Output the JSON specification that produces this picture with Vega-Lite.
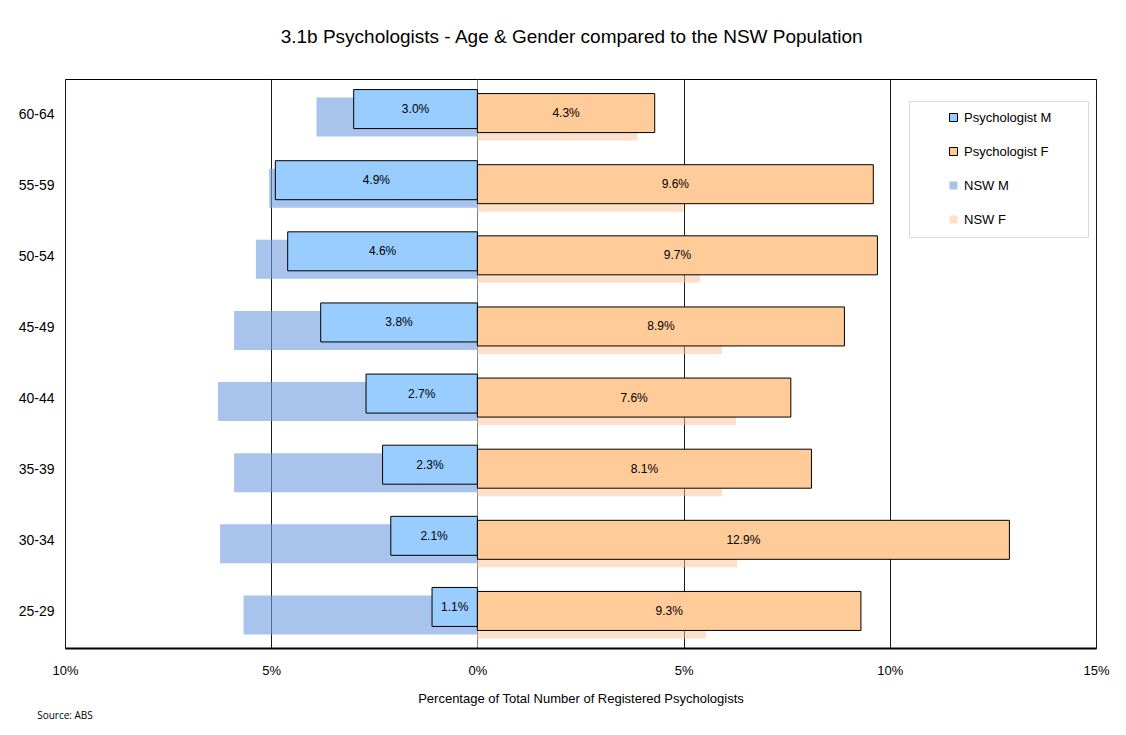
{
  "$schema": "https://vega.github.io/schema/vega-lite/v6.json",
  "background": "white",
  "padding": {"left": 17, "top": 27, "right": 28, "bottom": 12},
  "config": {"font": "Liberation Sans", "view": {"stroke": "#000000", "strokeWidth": 1}},
  "title": {"text": "3.1b Psychologists - Age & Gender compared to the NSW Population", "fontSize": 19, "font": "Liberation Sans", "fontWeight": "normal", "color": "#000000", "anchor": "middle", "offset": 32, "dx": 8},
  "vconcat": [
    {
      "width": 1031,
      "height": 569,
      "title": {"text": "Source: ABS", "orient": "bottom", "anchor": "start", "frame": "bounds", "fontSize": 10, "font": "Open Sans", "fontWeight": "normal", "color": "#000000", "dx": 19, "offset": 6},
      "data": {
        "values": [
          {"age": "60-64", "series": "NSW M", "value": -3.9},
          {"age": "55-59", "series": "NSW M", "value": -5.05},
          {"age": "50-54", "series": "NSW M", "value": -5.37},
          {"age": "45-49", "series": "NSW M", "value": -5.9},
          {"age": "40-44", "series": "NSW M", "value": -6.29},
          {"age": "35-39", "series": "NSW M", "value": -5.9},
          {"age": "30-34", "series": "NSW M", "value": -6.24},
          {"age": "25-29", "series": "NSW M", "value": -5.67},
          {"age": "60-64", "series": "NSW F", "value": 3.88},
          {"age": "55-59", "series": "NSW F", "value": 5.0},
          {"age": "50-54", "series": "NSW F", "value": 5.4},
          {"age": "45-49", "series": "NSW F", "value": 5.93},
          {"age": "40-44", "series": "NSW F", "value": 6.27},
          {"age": "35-39", "series": "NSW F", "value": 5.93},
          {"age": "30-34", "series": "NSW F", "value": 6.3},
          {"age": "25-29", "series": "NSW F", "value": 5.55},
          {"age": "60-64", "series": "Psychologist M", "value": -3.0},
          {"age": "55-59", "series": "Psychologist M", "value": -4.9},
          {"age": "50-54", "series": "Psychologist M", "value": -4.6},
          {"age": "45-49", "series": "Psychologist M", "value": -3.8},
          {"age": "40-44", "series": "Psychologist M", "value": -2.7},
          {"age": "35-39", "series": "Psychologist M", "value": -2.3},
          {"age": "30-34", "series": "Psychologist M", "value": -2.1},
          {"age": "25-29", "series": "Psychologist M", "value": -1.1},
          {"age": "60-64", "series": "Psychologist F", "value": 4.3},
          {"age": "55-59", "series": "Psychologist F", "value": 9.6},
          {"age": "50-54", "series": "Psychologist F", "value": 9.7},
          {"age": "45-49", "series": "Psychologist F", "value": 8.9},
          {"age": "40-44", "series": "Psychologist F", "value": 7.6},
          {"age": "35-39", "series": "Psychologist F", "value": 8.1},
          {"age": "30-34", "series": "Psychologist F", "value": 12.9},
          {"age": "25-29", "series": "Psychologist F", "value": 9.3}
        ]
      },
      "encoding": {
        "y": {
          "field": "age", "type": "nominal",
          "sort": ["60-64", "55-59", "50-54", "45-49", "40-44", "35-39", "30-34", "25-29"],
          "scale": {"paddingInner": 0, "paddingOuter": 0},
          "axis": {"title": null, "ticks": false, "domain": false, "labelPadding": 11, "labelFontSize": 14, "labelColor": "#000000", "labelFont": "Liberation Sans"}
        },
        "x": {
          "field": "value", "type": "quantitative", "stack": null,
          "scale": {"domain": [-10, 15], "nice": false, "zero": false},
          "axis": {
            "values": [-10, -5, 0, 5, 10, 15],
            "labelExpr": "abs(datum.value) + '%'",
            "ticks": false,
            "domain": true, "domainColor": "#000000", "domainWidth": 2,
            "grid": true,
            "gridColor": {"condition": {"test": "datum.value === 0", "value": "#808080"}, "value": "#1a1a1a"},
            "gridWidth": 1, "gridOpacity": 1,
            "labelFontSize": 13, "labelColor": "#000000", "labelPadding": 16, "labelFlush": false,
            "title": "Percentage of Total Number of Registered Psychologists",
            "titleFontSize": 13, "titleFontWeight": "normal", "titleColor": "#000000", "titlePadding": 15
          }
        },
        "color": {
          "field": "series", "type": "nominal",
          "scale": {
            "domain": ["Psychologist M", "Psychologist F", "NSW M", "NSW F"],
            "range": ["#99CCFF", "#FFCC99", "rgba(115,158,225,0.62)", "rgba(251,193,147,0.5)"]
          },
          "legend": {
            "title": ".", "titleOrient": "right", "titleColor": "#ffffff", "titlePadding": 24, "titleFontSize": 10,
            "orient": "none", "legendX": 844, "legendY": 22,
            "padding": 10, "strokeColor": "#d9d9d9", "fillColor": "#ffffff",
            "symbolType": "square", "symbolSize": 64, "symbolOffset": 28, "symbolStrokeWidth": 1,
            "labelFontSize": 13, "labelColor": "#000000", "labelFont": "Liberation Sans", "labelOffset": 4,
            "rowPadding": 20
          }
        },
        "stroke": {
          "field": "series", "type": "nominal",
          "scale": {
            "domain": ["Psychologist M", "Psychologist F", "NSW M", "NSW F"],
            "range": ["#000000", "#000000", "transparent", "transparent"]
          },
          "legend": {
            "title": ".", "titleOrient": "right", "titleColor": "#ffffff", "titlePadding": 24, "titleFontSize": 10,
            "orient": "none", "legendX": 844, "legendY": 22,
            "padding": 10, "strokeColor": "#d9d9d9", "fillColor": "#ffffff",
            "symbolType": "square", "symbolSize": 64, "symbolOffset": 28, "symbolStrokeWidth": 1,
            "labelFontSize": 13, "labelColor": "#000000", "labelFont": "Liberation Sans", "labelOffset": 4,
            "rowPadding": 20
          }
        }
      },
      "layer": [
        {
          "transform": [{"filter": "datum.series === 'NSW M'"}],
          "mark": {"type": "bar", "height": 39, "strokeWidth": 1, "yOffset": 2.5}
        },
        {
          "transform": [{"filter": "datum.series === 'NSW F'"}],
          "mark": {"type": "bar", "height": 39, "strokeWidth": 1, "yOffset": 6.5}
        },
        {
          "transform": [{"filter": "datum.series === 'Psychologist M'"}],
          "mark": {"type": "bar", "height": 39, "strokeWidth": 1, "yOffset": -5.5}
        },
        {
          "transform": [{"filter": "datum.series === 'Psychologist F'"}],
          "mark": {"type": "bar", "height": 39, "strokeWidth": 1, "yOffset": -1.5}
        },
        {
          "transform": [
            {"filter": "datum.series === 'Psychologist M'"},
            {"calculate": "datum.value / 2", "as": "mid"},
            {"calculate": "format(abs(datum.value), '.1f') + '%'", "as": "label"}
          ],
          "mark": {"type": "text", "fontSize": 12, "color": "#000000", "font": "Liberation Sans", "yOffset": -5.5},
          "encoding": {
            "x": {"field": "mid", "type": "quantitative"},
            "text": {"field": "label", "type": "nominal"},
            "color": {"value": "#000000"},
            "stroke": {"value": null}
          }
        },
        {
          "transform": [
            {"filter": "datum.series === 'Psychologist F'"},
            {"calculate": "datum.value / 2", "as": "mid"},
            {"calculate": "format(abs(datum.value), '.1f') + '%'", "as": "label"}
          ],
          "mark": {"type": "text", "fontSize": 12, "color": "#000000", "font": "Liberation Sans", "yOffset": -1.5},
          "encoding": {
            "x": {"field": "mid", "type": "quantitative"},
            "text": {"field": "label", "type": "nominal"},
            "color": {"value": "#000000"},
            "stroke": {"value": null}
          }
        }
      ]
    }
  ]
}
